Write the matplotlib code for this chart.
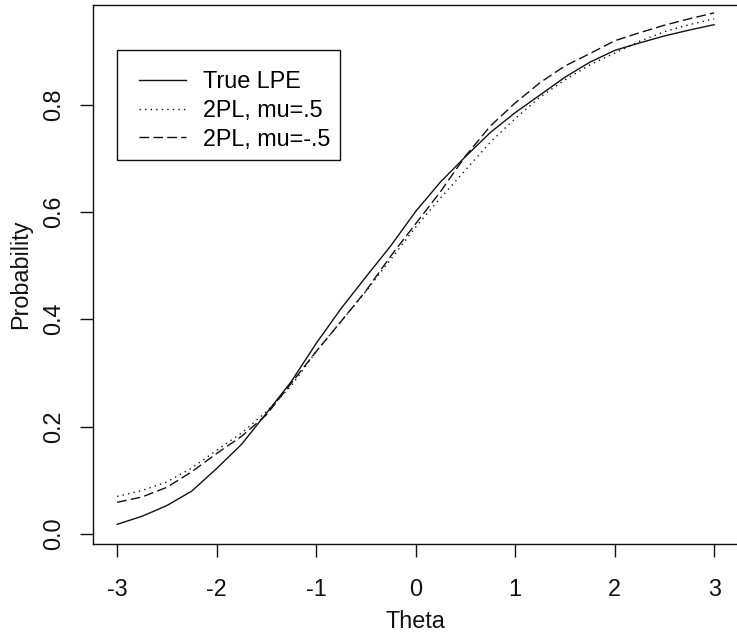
import numpy as np
import matplotlib
matplotlib.use("Agg")
import matplotlib.pyplot as plt
from matplotlib.patches import Rectangle

plt.rcParams['font.family'] = ['Liberation Sans', 'DejaVu Sans']

theta = [-3, -2.75, -2.5, -2.25, -2, -1.75, -1.5, -1.25, -1, -0.75, -0.5, -0.25, 0,
         0.25, 0.5, 0.75, 1, 1.25, 1.5, 1.75, 2, 2.25, 2.5, 2.75, 3]
true_lpe = [0.018, 0.033, 0.053, 0.080, 0.122, 0.167, 0.225, 0.284, 0.355, 0.420, 0.479,
            0.537, 0.601, 0.656, 0.703, 0.748, 0.785, 0.818, 0.851, 0.879, 0.901, 0.915,
            0.928, 0.939, 0.949]
pl2_mu_pos = [0.070, 0.081, 0.097, 0.123, 0.156, 0.188, 0.228, 0.276, 0.340, 0.396, 0.452,
              0.512, 0.572, 0.626, 0.678, 0.730, 0.774, 0.814, 0.846, 0.874, 0.896, 0.918,
              0.936, 0.949, 0.960]
pl2_mu_neg = [0.059, 0.069, 0.087, 0.116, 0.150, 0.182, 0.222, 0.281, 0.340, 0.396, 0.453,
              0.518, 0.578, 0.638, 0.704, 0.760, 0.803, 0.841, 0.872, 0.895, 0.919, 0.934,
              0.948, 0.960, 0.971]
labels = ["True LPE", "2PL, mu=.5", "2PL, mu=-.5"]

W, H = 737, 632
fig = plt.figure(figsize=(W / 100, H / 100), dpi=100)
ax = fig.add_axes([93.3 / W, 1 - 544.3 / H, (738 - 93.3) / W, (544.3 - 4.7) / H])

fs = 16.8
lw = 1.0
col = '#111111'
l1, = ax.plot(theta, true_lpe, color=col, lw=lw, ls='-')
l2, = ax.plot(theta, pl2_mu_pos, color=col, lw=lw, dashes=(1, 3))
l3, = ax.plot(theta, pl2_mu_neg, color=col, lw=lw, dashes=(7, 3))

# R-style 4% padding
ymin, ymax = min(true_lpe), max(true_lpe)
ax.set_xlim(-3.24, 3.24)
ax.set_ylim(ymin - 0.04 * (ymax - ymin), ymax + 0.04 * (ymax - ymin))

ax.set_xticks([-3, -2, -1, 0, 1, 2, 3])
ax.set_xticklabels(['-3', '-2', '-1', '0', '1', '2', '3'])
ax.set_yticks([0.0, 0.2, 0.4, 0.6, 0.8])
ax.set_yticklabels(['0.0', '0.2', '0.4', '0.6', '0.8'])
ax.tick_params(axis='both', length=9.4, width=1.0, color=col, labelsize=fs, labelcolor=col)
ax.tick_params(axis='x', pad=15)
ax.tick_params(axis='y', pad=11, labelrotation=90)
for t in ax.get_yticklabels():
    t.set_va('center')

for s in ax.spines.values():
    s.set_linewidth(1.0)
    s.set_color(col)

fig.text(415.8 / W, 1 - 621 / H, "Theta", ha='center', va='center', fontsize=fs, color=col)
fig.text(21 / W, 1 - 274 / H, "Probability", ha='center', va='center', rotation=90,
         fontsize=fs, color=col)

# legend box
fig.patches.append(Rectangle((116.7 / W, 1 - 160 / H), (340 - 116.7) / W, (160 - 50) / H,
                             transform=fig.transFigure, fill=False, lw=1.0, ec=col))
fig.legend([l1, l2, l3], labels, loc='upper left', bbox_to_anchor=(139 / W, 1 - 70 / H),
           frameon=False, fontsize=fs, handlelength=2.0, handletextpad=0.75,
           labelspacing=0.25, borderpad=0, borderaxespad=0)

fig.savefig("out.png", dpi=100)
